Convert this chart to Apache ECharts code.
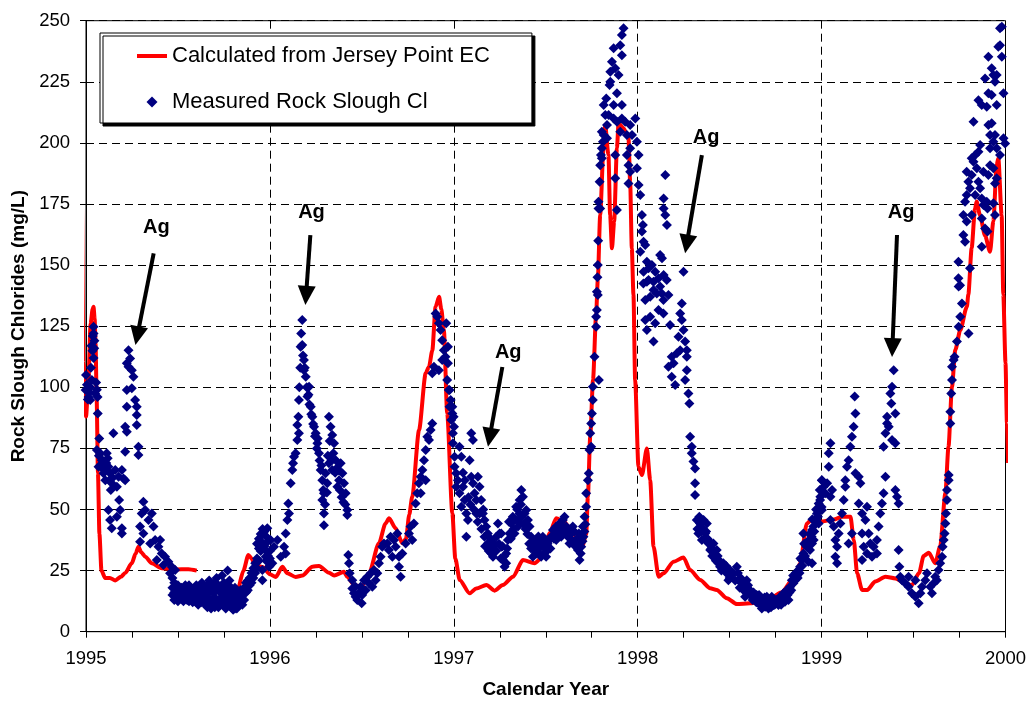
<!DOCTYPE html>
<html>
<head>
<meta charset="utf-8">
<script src="https://cdn.jsdelivr.net/npm/echarts@6.0.0/dist/echarts.min.js"></script>
<style>
html,body{margin:0;padding:0;background:#fff;}
#chart{width:1028px;height:702px;}
</style>
</head>
<body>
<div id="chart"></div>
<script>
// ---------- DATA ----------
var yTicks = [0, 25, 50, 75, 100, 125, 150, 175, 200, 225, 250];
var yearTicks = [1995, 1996, 1997, 1998, 1999, 2000];

var calcName = 'Calculated from Jersey Point EC';
var measName = 'Measured Rock Slough Cl';

// Calculated from Jersey Point EC  [decimal year, mg/L]  (null = gap)
var calcLine = [
[1994.970,100],[1994.976,187],[1994.986,110],[1995.000,88],[1995.012,100],[1995.025,126],[1995.036,132],[1995.041,133],[1995.047,128],[1995.052,118],[1995.058,95],[1995.065,65],[1995.073,40],[1995.084,25],[1995.104,22],[1995.130,22],[1995.159,21],[1995.190,22.5],[1995.213,24],[1995.249,28],[1995.270,32],[1995.285,34.8],[1995.300,32.5],[1995.322,30.7],[1995.358,28],[1995.412,26],[1995.485,25.5],[1995.557,25.6],[1995.602,25],[1995.603,null],
[1995.820,null],[1995.829,17],[1995.856,25],[1995.883,31.4],[1995.900,30],[1995.920,27],[1995.960,26.5],[1996.000,23.5],[1996.032,22.4],[1996.068,26.6],[1996.095,23.9],[1996.140,22.4],[1996.177,23],[1996.231,26.6],[1996.267,26.9],[1996.322,24.1],[1996.349,23],[1996.403,24.5],[1996.421,22.4],[1996.460,19],[1996.500,18.5],[1996.539,23.9],[1996.593,36.2],[1996.629,44.3],[1996.648,46.4],[1996.684,42.3],[1996.720,36.2],[1996.740,38],[1996.758,48],[1996.774,55.2],[1996.811,82.5],[1996.847,105.7],[1996.865,108.4],[1996.883,115],[1996.901,133],[1996.920,137],[1996.932,132],[1996.946,123.4],[1996.964,89.4],[1996.992,48.4],[1997.008,30],[1997.032,21.2],[1997.086,15.7],[1997.122,17.7],[1997.177,19.1],[1997.222,16.8],[1997.267,19.1],[1997.322,22.5],[1997.376,29.3],[1997.439,28],[1997.485,30.7],[1997.521,40.3],[1997.557,46.4],[1997.600,45],[1997.650,40],[1997.700,35],[1997.720,40],[1997.729,55.2],[1997.742,80],[1997.757,103],[1997.774,130],[1997.783,143.9],[1997.796,170.5],[1997.814,197.8],[1997.823,207.3],[1997.841,195],[1997.850,170.5],[1997.860,156.9],[1997.872,167.8],[1997.887,197.8],[1997.896,208],[1997.923,206],[1997.950,201.9],[1997.959,184],[1997.968,156.9],[1997.977,137.8],[1997.986,103],[1998.004,67.5],[1998.023,64.1],[1998.050,75],[1998.068,62],[1998.086,34.8],[1998.114,22.5],[1998.140,23.9],[1998.195,28.6],[1998.249,30.4],[1998.285,25.2],[1998.340,21.2],[1998.394,17.8],[1998.430,17.1],[1998.485,13.7],[1998.539,11.3],[1998.611,11.6],[1998.700,12.5],[1998.780,16],[1998.850,22],[1998.883,28],[1998.920,44.3],[1998.948,46],[1998.992,45],[1999.066,45.9],[1999.111,47],[1999.157,47],[1999.175,37.5],[1999.193,23.9],[1999.220,17.1],[1999.248,17.1],[1999.292,20.5],[1999.347,22.5],[1999.401,21.8],[1999.455,19.8],[1999.490,19],[1999.530,24],[1999.555,31],[1999.583,32.3],[1999.618,28],[1999.645,35],[1999.673,56.6],[1999.690,75.7],[1999.709,100.2],[1999.727,115.3],[1999.754,123.4],[1999.790,133],[1999.798,138],[1999.816,157],[1999.834,173],[1999.843,176],[1999.861,170.5],[1999.889,162],[1999.916,155.5],[1999.934,168],[1999.952,191],[1999.961,193.7],[1999.979,170.5],[1999.988,138],[2000.000,110],[2000.008,85],[2000.014,69]
];

// Measured Rock Slough Cl  [decimal year, mg/L]
var measured1995 = [
[1995.000,105],[1994.998,98.9],[1995.014,96],[1995.023,100],[1995.032,103],[1995.041,124.8],[1995.041,122],[1995.046,119],[1995.035,115],[1995.041,112],[1995.059,99],[1995.050,97.5],[1995.023,94.8],
[1995.005,101],[1995.010,95],[1995.018,98],[1995.027,108],[1995.030,117],[1995.037,121],[1995.045,116],[1995.055,102],[1995.063,96],[1995.070,72],[1995.080,68],[1995.090,70],[1995.100,66],[1995.105,62],[1995.110,69],[1995.118,71],[1995.127,62],[1995.135,58],[1995.145,63],
[1995.064,89.3],[1995.072,79.1],[1995.059,74.3],[1995.077,73],[1995.086,70.2],[1995.068,67.5],[1995.095,64.8],[1995.113,73],[1995.122,67.5],[1995.131,64.8],[1995.140,60.7],[1995.149,81.2],[1995.159,66.2],[1995.168,59.3],[1995.177,63.4],[1995.195,66.2],[1995.204,62.7],[1995.213,62],
[1995.122,49.8],[1995.131,45.7],[1995.140,42.3],[1995.168,47],[1995.186,49.8],[1995.180,53.9],[1995.195,40.2],[1995.195,42.3],
[1995.231,115.2],[1995.240,111.8],[1995.231,108.4],[1995.249,107],[1995.222,109.8],[1995.258,104.3],[1995.249,99.6],[1995.222,98.9],[1995.267,94.8],[1995.276,92],[1995.222,92],[1995.276,88.7],[1995.276,84.6],[1995.213,83.9],[1995.222,81.8],[1995.213,73.6],[1995.285,75.7],[1995.285,72.3],
[1995.312,53.2],[1995.303,48.4],[1995.322,49.8],[1995.294,43],[1995.312,40.2],[1995.294,36.8],[1995.340,45.7],[1995.358,48.4],[1995.367,43],[1995.349,36.1],[1995.376,37.5],[1995.394,34.8],[1995.403,37.5],[1995.412,32],[1995.430,30.7],[1995.448,28.6],[1995.466,26.6],[1995.485,25.2],[1995.385,29.3],[1995.421,27.3],[1995.457,23.9],
[1995.47,22],[1995.47,18],[1995.47,15],[1995.48,20],[1995.48,16],[1995.48,13],[1995.49,17],[1995.49,14],[1995.50,19],[1995.50,15],[1995.50,12.5],[1995.51,17],[1995.51,13.5],[1995.52,18],[1995.52,15],[1995.53,16],[1995.53,12.5],[1995.54,19],[1995.54,14],[1995.55,17],[1995.55,13],[1995.56,16],[1995.56,12.5],[1995.56,19],[1995.57,18],[1995.57,14],[1995.58,15],[1995.58,12],[1995.59,17],[1995.59,13],[1995.60,19],[1995.60,15],[1995.60,12],[1995.61,16],[1995.61,11],[1995.62,18],[1995.62,14],[1995.63,20],[1995.63,15],[1995.63,12],[1995.64,17],[1995.64,13],[1995.65,15],[1995.65,11],[1995.66,19],[1995.66,14],[1995.66,10],[1995.67,21],[1995.67,16],[1995.67,12],[1995.68,18],[1995.68,13],[1995.68,9.5],[1995.69,16],[1995.69,11],[1995.70,20],[1995.70,14],[1995.70,10],[1995.71,22],[1995.71,17],[1995.71,12],[1995.72,19],[1995.72,13],[1995.72,10],[1995.73,16],[1995.73,11],[1995.74,23],[1995.74,18],[1995.74,14],[1995.75,20],[1995.75,15],[1995.75,11],[1995.76,17],[1995.76,12],[1995.76,9.5],[1995.77,25],[1995.77,19],[1995.77,14],[1995.78,21],[1995.78,16],[1995.78,11],[1995.79,18],[1995.79,13],[1995.79,10],[1995.80,15],[1995.80,11],[1995.80,9],[1995.81,18],[1995.81,13],[1995.81,9.5],[1995.82,16],[1995.82,12],[1995.82,9.5],[1995.83,14],[1995.83,10.5],[1995.84,17],[1995.84,12],[1995.85,15],[1995.85,11],[1995.86,18],[1995.86,13],[1995.87,20],[1995.87,16],[1995.88,21],[1995.88,17],[1995.89,22],[1995.89,19],[1995.90,24],[1995.90,20],[1995.91,26],[1995.91,22],[1995.92,28],[1995.92,24],[1995.93,30],[1995.93,26],[1995.93,36],[1995.94,34],[1995.94,29],[1995.94,38],[1995.95,40],[1995.95,33],[1995.95,37],[1995.96,42],[1995.96,36],[1995.97,41],[1995.97,35],[1995.98,39],[1995.98,33],[1995.98,29],[1995.99,37],[1995.99,31],[1996.00,33],[1996.00,30],[1996.00,27]
];
var measured1996 = [
[1995.959,40.2],[1995.986,42.3],[1996.004,37.5],[1996.022,34.8],[1996.041,37.5],[1996.059,30.7],[1996.077,34.8],[1996.086,32],[1995.977,30.7],[1995.995,26.6],[1996.013,28],[1995.959,21.1],[1995.959,25.2],
[1996.086,40.2],[1996.095,45.7],[1996.104,48.4],[1996.100,52.5],[1996.113,60.7],[1996.122,66.2],[1996.126,68.9],[1996.131,71.6],[1996.140,73],[1996.149,78.4],[1996.149,84.6],[1996.158,81.2],
[1996.167,116.6],[1996.176,127.5],[1996.176,117.3],[1996.185,111.2],[1996.185,107],[1996.195,104.3],[1996.213,100.2],[1996.204,96.2],[1996.158,94.8],[1996.222,92],[1996.231,88],[1996.240,83.9],[1996.249,81.2],[1996.258,77.1],[1996.267,73],[1996.276,66.2],[1996.285,62],[1996.294,56.6],[1996.285,53.9],[1996.294,48.4],[1996.294,43.6],
[1996.155,88],[1996.160,100],[1996.165,108],[1996.170,122],[1996.180,113],[1996.190,108],[1996.200,100],[1996.210,97],[1996.215,93],[1996.225,89],[1996.235,85],[1996.245,80],[1996.255,75],[1996.260,79],[1996.270,70],[1996.280,68],[1996.290,58],[1996.300,52],[1996.310,57],[1996.315,72],[1996.325,78],[1996.335,70],[1996.345,73],[1996.355,65],[1996.365,67],[1996.375,66],[1996.380,58],[1996.390,55],[1996.400,53],[1996.410,52],
[1996.321,88],[1996.330,83.9],[1996.339,80.5],[1996.349,77.1],[1996.321,68.9],[1996.339,66.2],[1996.358,70.2],[1996.385,68.9],[1996.394,64.8],[1996.403,60.7],[1996.412,56.6],[1996.421,49.8],[1996.421,47.7],[1996.376,62],[1996.367,59.3],[1996.303,64.8],[1996.312,60.7],
[1996.426,31.4],[1996.430,28],[1996.434,23.9],[1996.448,21.1],[1996.466,18.4],[1996.484,15.7],[1996.499,11.6],[1996.502,15],[1996.521,17],[1996.539,19.8],[1996.557,18.4],[1996.575,21.1],[1996.584,23.9],[1996.593,28],[1996.602,30.7],[1996.611,34.8],[1996.620,36.1],[1996.457,15.7],[1996.475,13],[1996.512,21.1],[1996.530,22.5],[1996.548,23.9],[1996.566,25.2],[1996.448,17.7],[1996.466,14.3],[1996.493,18.4],
[1996.638,36.1],[1996.656,38.9],[1996.675,37.5],[1996.684,34.8],[1996.693,40.2],[1996.702,30.7],[1996.702,26.6],[1996.711,22.5],[1996.720,32],[1996.647,33.4],[1996.666,30.7],
[1996.738,36.1],[1996.756,40.2],[1996.765,43],[1996.774,37.5],[1996.783,44.3],[1996.792,52.5],[1996.801,56.6],[1996.810,60.7],[1996.820,63.4],[1996.829,66.2],[1996.838,70.2],[1996.847,74.3],[1996.865,78.4],[1996.874,82.5],[1996.883,85.2],[1996.856,79.8],[1996.847,62],[1996.820,56.6],
[1996.883,105.7],[1996.892,108.4],[1996.901,130.2],[1996.910,128.9],[1996.919,126.2],[1996.928,123.4],[1996.937,119.3],[1996.946,115.2],[1996.937,111.2],[1996.955,112.5],[1996.919,107],[1996.964,103],[1996.973,98.9],[1996.983,94.8],[1996.992,89.3],[1997.001,83.9]
];
var measured1997 = [
[1996.959,126.2],[1996.968,116.6],[1996.968,109.8],[1996.977,98.9],[1996.977,92],[1996.986,86.6],[1996.995,81.2],[1996.995,77.1],[1997.004,71.6],[1997.004,67.5],[1997.013,64.8],[1997.022,62],[1996.992,92],[1996.999,88],
[1997.031,75.7],[1997.041,71.6],[1997.013,59.3],[1997.031,56.6],[1997.050,59.3],[1997.059,53.9],[1997.041,51.1],[1997.068,48.4],[1997.077,45.7],[1997.068,38.9],[1997.095,81.2],[1997.104,78.4],[1997.086,70.2],[1997.095,63.4],[1997.104,60.7],[1997.113,56.6],[1997.122,53.9],[1997.131,63.4],[1997.140,59.3],[1997.149,53.9],[1997.158,48.4],[1997.167,45.7],[1997.176,43],[1997.185,40.2],[1997.195,36.1],[1997.204,32],[1997.213,34.8],[1997.231,38.9],[1997.240,44.3],[1997.249,40.2],[1997.258,34.8],[1997.267,29.3],[1997.276,26.6],[1997.285,32],[1997.294,37.5],[1997.303,40.2],[1997.312,44.3],[1997.321,47],[1997.339,51.1],[1997.358,53.9],[1997.367,58],[1997.376,55.2],[1997.385,48.4],[1997.394,49.8],[1997.403,45.7],[1997.412,43],[1997.421,38.9],[1997.430,36.1],[1997.439,33.4],[1997.448,32],[1997.457,37.5],[1997.466,34.8],[1997.484,38.9],[1997.493,34.8],[1997.502,30.7],[1997.512,33.4],[1997.521,37.5],[1997.539,41.6],[1997.557,43],[1997.575,44.3],[1997.593,45.7],[1997.602,47],[1997.611,43],[1997.620,38.9],[1997.629,36.1],[1997.638,40.2],[1997.647,43],[1997.666,37.5],[1997.675,33.4],[1997.684,29.3],[1997.693,34.8],[1997.702,43],[1997.711,47],[1997.705,38.9],[1997.680,40.2],[1997.358,48.4],[1997.213,30.7],[1997.185,36.1],[1997.167,38.9],[1997.258,40.2],[1997.285,28],[1997.430,30.7],[1997.475,30.7],[1997.557,37.5],[1997.584,38.9],[1997.140,48.4],[1997.122,48.4],[1997.330,40.2],[1997.349,43],
[1997.050,65],[1997.060,62],[1997.080,55],[1997.090,52],[1997.110,50],[1997.130,45],[1997.150,42],[1997.160,50],[1997.170,35],[1997.190,33],[1997.200,38],[1997.220,36],[1997.230,33],[1997.245,36],[1997.255,30],[1997.265,35],[1997.275,31],[1997.290,34],[1997.300,45],[1997.310,38],[1997.325,42],[1997.335,46],[1997.345,50],[1997.355,45],[1997.365,52],[1997.370,47],[1997.380,44],[1997.390,42],[1997.400,40],[1997.410,36],[1997.420,34],[1997.435,37],[1997.445,35],[1997.455,33],[1997.460,39],[1997.470,37],[1997.480,35],[1997.490,32],[1997.500,37],[1997.510,36],[1997.525,34],[1997.530,39],[1997.545,38],[1997.550,40],[1997.565,42],[1997.570,39],[1997.580,41],[1997.590,43],[1997.600,41],[1997.615,40],[1997.625,42],[1997.635,38],[1997.645,37],[1997.655,41],[1997.660,35],[1997.670,38],[1997.680,35],[1997.690,32],[1997.700,37],[1997.710,41],[1997.715,44],
[1997.720,51.1],[1997.720,56.6],[1997.729,62],[1997.734,64.8],[1997.738,74.3],[1997.747,75.7],[1997.742,81.2],[1997.747,85.2],[1997.751,89.3],[1997.756,94.8],[1997.756,100.2],[1997.789,103],[1997.765,112.5],[1997.774,124.8],[1997.774,128.9],[1997.778,131.6],[1997.783,137.8],
[1997.778,139.1],[1997.781,145],[1997.783,150],[1997.785,160],[1997.787,173.2],[1997.787,175.9],[1997.793,184.1],[1997.796,190.9],[1997.800,195],[1997.805,197.8],[1997.811,200.5],[1997.815,203.2],[1997.805,204.6],[1997.824,211.4],[1997.815,215.5],[1997.829,218.2],[1997.847,223.7],[1997.851,229.1],[1997.860,233.2],[1997.869,238.7],[1997.905,240],[1997.923,246.9],[1997.914,244.1],[1997.878,230.5],[1997.896,227.8],[1997.851,225],[1997.914,235.9],[1997.887,220.3],[1997.914,215.5],[1997.869,215.5],[1997.842,211.4],[1997.833,207.3],[1997.869,210],[1997.887,208.7],[1997.914,210],[1997.932,208.7],[1997.959,207.3],[1997.987,210],[1997.905,204.6],[1997.941,203.2],[1997.969,203.2],[1997.996,200.5],[1997.959,197.8],[1998.005,195],[1997.941,195],[1997.878,195],[1997.833,201.9],[1997.805,193.7],[1997.950,190.9],[1997.996,189.6],[1997.959,188.2],[1998.005,182.8],[1997.950,183.4],[1998.014,178.7],[1997.878,185.5],[1997.887,172.5],[1997.796,173.2]
];
var measured1998 = [
[1998.023,170.5],[1998.028,166.4],[1998.023,163.7],[1998.032,159.6],[1998.041,158.2],[1998.014,155.5],[1998.050,151.4],[1998.059,148.7],[1998.032,147.3],[1998.077,150],[1998.095,147.3],[1998.122,154.1],[1998.132,152.8],[1998.113,144.6],[1998.141,145.9],[1998.086,143.2],[1998.150,186.9],[1998.141,177.3],[1998.141,173.2],[1998.150,170.5],[1998.159,166.4],[1998.249,147.3],[1998.050,143.2],
[1998.031,142.5],[1998.059,143.9],[1998.041,135.7],[1998.068,137.1],[1998.086,139.8],[1998.104,138.4],[1998.122,141.2],[1998.131,138.4],[1998.140,135.7],[1998.158,143.9],[1998.167,137.8],[1998.113,131.6],[1998.140,130.2],[1998.068,128.9],[1998.041,127.5],[1998.095,126.2],[1998.050,123.4],[1998.086,118.7],[1998.176,125.5],[1998.240,134.3],[1998.231,130.2],[1998.240,127.5],[1998.249,123.4],[1998.222,120.7],[1998.258,118.7],[1998.267,115.2],[1998.231,115.2],[1998.185,112.5],[1998.213,113.9],[1998.267,112.5],[1998.167,108.4],[1998.195,109.8],[1998.185,104.3],[1998.204,100.9],[1998.258,103],[1998.267,107],[1998.276,97.5],[1998.281,93.4],
[1998.285,79.8],[1998.294,75.7],[1998.294,73],[1998.303,69.6],[1998.312,66.8],[1998.312,60.7],[1998.312,55.9],
[1998.321,45.7],[1998.339,44.3],[1998.358,45.7],[1998.376,44.3],[1998.330,40.2],[1998.349,37.5],[1998.367,40.2],[1998.385,36.1],[1998.394,33.4],[1998.412,36.1],[1998.421,30.7],[1998.430,33.4],[1998.439,28],[1998.448,26.6],[1998.466,28],[1998.484,23.9],[1998.493,21.1],[1998.502,25.2],[1998.521,23.9],[1998.539,26.6],[1998.548,21.1],[1998.566,19.8],[1998.575,17],[1998.593,18.4],[1998.602,15.7],[1998.620,14.3],[1998.638,13],[1998.656,11.6],[1998.675,9.5],[1998.684,13],[1998.693,10.2],[1998.702,14.3],[1998.720,11.6],[1998.729,14.3],[1998.738,10.9],[1998.756,13],[1998.765,10.9],[1998.783,13.6],[1998.792,15.7],[1998.810,17],[1998.820,13],[1998.829,18.4],[1998.838,21.1],[1998.847,19.8],[1998.865,22.5],[1998.874,25.2],[1998.883,26.6],[1998.892,29.3],[1998.901,32],[1998.919,34.8],[1998.928,28.6],[1998.937,33.4],[1998.946,38.9],[1998.901,40.2],[1998.955,43],[1998.973,45.7],[1998.983,49.8],[1998.992,53.9],[1999.001,62],[1998.647,15],[1998.666,13.6],[1998.593,21.1],[1998.584,14.3],[1998.611,17],[1998.711,9.5],[1998.747,13],[1998.801,12.3],
[1998.325,42],[1998.335,47],[1998.345,41],[1998.355,42],[1998.362,38],[1998.372,41],[1998.380,38],[1998.390,37],[1998.400,34],[1998.405,31],[1998.415,33],[1998.425,29],[1998.435,31],[1998.445,29],[1998.455,25],[1998.460,27],[1998.475,25],[1998.480,27],[1998.500,22],[1998.510,24],[1998.530,21],[1998.545,24],[1998.555,18],[1998.560,22],[1998.570,20],[1998.585,17],[1998.600,19],[1998.615,16],[1998.625,13],[1998.630,16],[1998.645,12],[1998.660,15],[1998.670,12],[1998.680,11],[1998.690,14],[1998.700,11],[1998.715,12],[1998.725,10],[1998.735,13],[1998.745,11],[1998.760,12],[1998.770,14],[1998.780,11],[1998.790,13],[1998.800,15],[1998.815,15],[1998.825,16],[1998.835,17],[1998.845,23],[1998.855,21],[1998.860,24],[1998.870,22],[1998.880,24],[1998.885,30],[1998.895,27],[1998.905,36],[1998.910,31],[1998.925,37],[1998.935,40],[1998.940,36],[1998.950,46],[1998.960,41],[1998.970,50],[1998.980,47],[1998.990,58],[1999.000,51]
];
var measured1999 = [
[1998.948,41.6],[1998.957,37.5],[1998.966,45.7],[1998.975,48.4],[1998.984,52.5],[1998.993,55.2],[1999.002,62],[1999.011,59.3],[1999.020,56.6],[1999.030,60.7],[1999.039,73],[1999.048,77.1],[1999.039,67.5],[1999.057,58],[1999.048,55.2],[1999.002,49.8],[1998.984,44.3],[1998.948,36.1],[1998.948,28],[1999.048,45.7],
[1999.066,43],[1999.075,37.5],[1999.084,34.8],[1999.075,30.7],[1999.084,28],[1999.093,40.2],[1999.102,44.3],[1999.111,48.4],[1999.120,53.9],[1999.129,59.3],[1999.129,62],[1999.138,67.5],[1999.147,70.2],[1999.156,75.7],[1999.165,79.8],[1999.174,83.9],[1999.184,89.3],[1999.180,96.2],[1999.184,64.8],[1999.202,63.4],[1999.211,60.7],[1999.202,52.5],[1999.220,48.4],[1999.238,45.7],[1999.247,51.1],[1999.220,40.2],[1999.229,34.8],[1999.220,29.3],[1999.247,32],[1999.265,36.1],[1999.274,30.7],[1999.283,34.8],[1999.301,37.5],[1999.310,43],[1999.319,48.4],[1999.328,52.5],[1999.337,56.6],[1999.347,63.4],[1999.337,75.7],[1999.347,81.2],[1999.356,85.2],[1999.356,88],[1999.374,97.5],[1999.383,100.2],[1999.392,107],[1999.379,93.4],[1999.401,89.3],[1999.365,83.9],[1999.383,78.4],[1999.401,77.1],[1999.401,58],[1999.410,55.2],[1999.419,52.5],[1999.419,33.4],[1999.301,32],[1999.256,40.2],[1999.165,40.2],[1999.147,36.1],
[1999.423,26.6],[1999.428,22.5],[1999.437,21.1],[1999.455,19.8],[1999.473,18.4],[1999.491,15.7],[1999.510,14.3],[1999.528,11.6],[1999.537,15.7],[1999.546,18.4],[1999.564,21.1],[1999.573,23.9],[1999.591,18.4],[1999.600,15.7],[1999.609,19.8],[1999.618,22.5],[1999.627,21.1],[1999.636,25.2],[1999.645,28],[1999.655,30.7],[1999.510,21.1],[1999.473,22.5],
[1999.658,34.8],[1999.664,37.5],[1999.669,40.2],[1999.673,44.3],[1999.676,48.4],[1999.682,53.9],[1999.682,58],[1999.691,62],[1999.691,64.1],[1999.700,85.2],[1999.700,90],[1999.705,97.5],[1999.709,103],[1999.709,108.4],[1999.718,111.2],[1999.723,112.5],[1999.736,118.7],[1999.745,124.8],[1999.754,128.9],[1999.763,134.3],[1999.745,141.2],[1999.799,122],
[1999.744,144.6],[1999.753,141.8],[1999.744,151.4],[1999.807,148.7],[1999.771,162.3],[1999.780,159.6],[1999.771,170.5],[1999.780,175.9],[1999.789,167.8],[1999.816,170.5],[1999.807,181.4],[1999.816,186.9],[1999.826,192.3],[1999.835,195],[1999.816,193.7],[1999.844,189.6],[1999.853,184.1],[1999.862,181.4],[1999.871,177.3],[1999.880,174.6],[1999.898,175.9],[1999.902,173.2],[1999.889,165],[1999.902,163.7],[1999.871,157.5],[1999.862,199.1],[1999.853,196.4],[1999.880,188.2],[1999.907,186.9],[1999.916,190.9],[1999.934,189.6],[1999.952,185.5],[1999.943,183.4],[1999.934,175.3],[1999.943,170.5],[1999.916,197.8],[1999.934,200.5],[1999.952,197.8],[1999.970,195],[1999.916,203.2],[1999.943,203.2],[1999.989,201.9],[1999.998,199.8],[1999.907,207.3],[1999.925,208],[1999.826,208.7],[1999.853,217.5],[1999.871,215.5],[1999.898,214.8],[1999.907,220.3],[1999.925,219.6],[1999.952,215.5],[1999.989,220.3],[1999.889,226.4],[1999.943,225],[1999.952,227.8],[1999.925,230.5],[1999.934,227.8],[1999.907,235.3],[1999.980,235.3],[1999.970,240],[1999.961,239.3],[1999.980,247.5],[1999.970,246.9],[1999.789,188.2],[1999.798,184.1],[1999.835,178.7],[1999.871,169.1],[1999.789,178.7]
];

// "Ag" annotations: label position, arrow tail, arrow tip  [year, mg/L]
var agLabelPos  = [[1995.383,165.2],[1996.226,171.7],[1997.296,114.4],[1998.372,202.4],[1999.432,171.7]];
var agArrowFrom = [[1995.368,154.8],[1996.220,162.3],[1997.264,108.3],[1998.349,195.0],[1999.410,162.3]];
var agArrowTo   = [[1995.269,117.3],[1996.193,133.7],[1997.186,75.7],[1998.258,154.8],[1999.383,112.4]];
var agText = 'Ag';

// ---------- CHART ----------
var FONT = 'Liberation Sans, Arial, sans-serif';
var measuredAll = measured1995.concat(measured1996, measured1997, measured1998, measured1999);
var agData = agArrowFrom.map(function (s, i) {
  return [s[0], s[1], agArrowTo[i][0], agArrowTo[i][1], agLabelPos[i][0], agLabelPos[i][1]];
});

function renderAg(params, api) {
  var s = api.coord([api.value(0), api.value(1)]);
  var e = api.coord([api.value(2), api.value(3)]);
  var t = api.coord([api.value(4), api.value(5)]);
  var dx = e[0] - s[0], dy = e[1] - s[1];
  var len = Math.sqrt(dx * dx + dy * dy);
  var ux = dx / len, uy = dy / len;
  var head = 19, half = 9;
  var bx = e[0] - ux * head, by = e[1] - uy * head;
  return {
    type: 'group',
    children: [
      { type: 'line', shape: { x1: s[0], y1: s[1], x2: bx + ux * 2, y2: by + uy * 2 },
        style: { stroke: '#000', lineWidth: 4 } },
      { type: 'polygon', shape: { points: [[e[0], e[1]], [bx - uy * half, by + ux * half], [bx + uy * half, by - ux * half]] },
        style: { fill: '#000' } },
      { type: 'text', x: t[0], y: t[1],
        style: { text: agText, fill: '#000', fontSize: 20, fontWeight: 'bold', fontFamily: FONT, align: 'center', verticalAlign: 'middle' } }
    ]
  };
}

var chart = echarts.init(document.getElementById('chart'), null, { renderer: 'canvas' });
chart.setOption({
  animation: false,
  backgroundColor: '#fff',
  textStyle: { fontFamily: FONT, color: '#000' },
  grid: { left: 86, right: 22.5, top: 20.7, bottom: 70.3, show: true, borderColor: '#000', borderWidth: 1, backgroundColor: 'transparent', containLabel: false, outerBoundsMode: 'none' },
  legend: {
    orient: 'vertical', left: 100, top: 33,
    padding: [12, 42, 10, 37], itemGap: 24, itemWidth: 30, itemHeight: 11,
    backgroundColor: '#fff', borderColor: '#000', borderWidth: 1,
    shadowColor: '#000', shadowOffsetX: 3, shadowOffsetY: 3, shadowBlur: 0,
    textStyle: { fontSize: 22, color: '#000', fontFamily: FONT },
    data: [
      { name: calcName, icon: 'path://M0 0H30V4H0Z', itemStyle: { color: '#ff0000', borderWidth: 0 } },
      { name: measName, icon: 'path://M5 0L10 5L5 10L0 5Z', itemStyle: { color: '#000080', borderWidth: 0 } }
    ],
    selectedMode: false
  },
  xAxis: {
    type: 'value', min: yearTicks[0], max: yearTicks[yearTicks.length - 1], interval: 1,
    name: 'Calendar Year', nameLocation: 'middle', nameGap: 49,
    nameTextStyle: { fontSize: 19, fontWeight: 'bold', color: '#000', fontFamily: FONT },
    axisLine: { show: true, onZero: false, lineStyle: { color: '#000', width: 1 } },
    axisTick: { show: true, length: 6, lineStyle: { color: '#000' } },
    minorTick: { show: true, splitNumber: 4, length: 6, lineStyle: { color: '#000', width: 1 } },
    axisLabel: { fontSize: 18.5, color: '#000', margin: 18, fontFamily: FONT, formatter: function (v) { return String(Math.round(v)); } },
    splitLine: { show: true, lineStyle: { color: '#000', width: 1, type: [8, 5] } }
  },
  yAxis: {
    type: 'value', min: yTicks[0], max: yTicks[yTicks.length - 1], interval: yTicks[1] - yTicks[0],
    name: 'Rock Slough Chlorides (mg/L)', nameLocation: 'middle', nameGap: 56,
    nameTextStyle: { fontSize: 19, fontWeight: 'bold', color: '#000', fontFamily: FONT },
    axisLine: { show: true, lineStyle: { color: '#000', width: 1 } },
    axisTick: { show: true, length: 6, lineStyle: { color: '#000' } },
    axisLabel: { fontSize: 18.5, color: '#000', margin: 16, fontFamily: FONT },
    splitLine: { show: true, lineStyle: { color: '#000', width: 1, type: [8, 5] } }
  },
  series: [
    {
      name: calcName, type: 'line', data: calcLine, symbol: 'none', showSymbol: false,
      smooth: 0.25, smoothMonotone: 'x', connectNulls: false, clip: false,
      lineStyle: { color: '#ff0000', width: 4 }, itemStyle: { color: '#ff0000' }, z: 2
    },
    {
      name: measName, type: 'scatter', data: measuredAll, symbol: 'diamond', symbolSize: 10,
      itemStyle: { color: '#000080', opacity: 1 }, clip: false, z: 3
    },
    {
      name: 'annotations', type: 'custom', data: agData, renderItem: renderAg,
      clip: false, silent: true, z: 10
    }
  ]
});
</script>
</body>
</html>
